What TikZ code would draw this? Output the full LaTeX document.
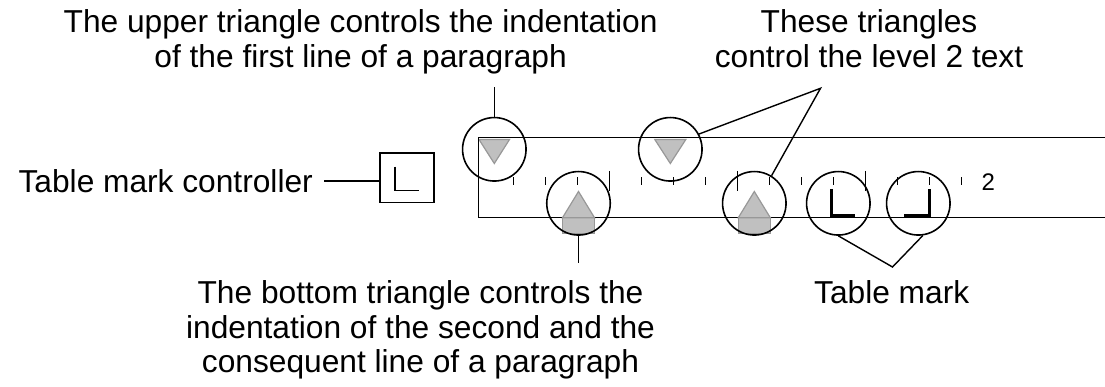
\documentclass[tikz,border=0pt]{standalone}
\usepackage{fontspec}
\setmainfont{Liberation Sans}
\definecolor{markfill}{RGB}{192,192,192}
\definecolor{markedge}{RGB}{152,152,152}
\begin{document}
\begin{tikzpicture}[x=1pt,y=-1pt,
  ln/.style={line width=1.6pt},
  leader/.style={line width=1.4pt},
  tickmark/.style={line width=1.5pt},
  ring/.style={circle,draw,line width=1.6pt,minimum size=63.5pt,inner sep=0pt},
  lbl/.style={font=\fontsize{31.7}{34.3}\selectfont,inner sep=0pt,align=center},
  marker/.style={fill=markfill,draw=markedge,line width=1.2pt},
  tabmark/.style={line width=3pt}]
\useasboundingbox (0,0) rectangle (1105,387);

% upper triangles (under the ruler line)
\draw[marker] (479,139.5) -- (509.5,139.5) -- (494.3,163.5) -- cycle;
\draw[marker] (654.8,139.5) -- (685.8,139.5) -- (670.3,163.5) -- cycle;

% ruler
\draw[ln] (1105,137.7) -- (478.3,137.7) -- (478.3,217.7) -- (1105,217.7);

% ticks
\foreach \i in {0,1,2,4,5,6,8,9,10,12,13,14}
  \draw[tickmark] ({513.3+32*\i},177.5) -- ++(0,8);
\foreach \i in {3,7,11}
  \draw[tickmark] ({513.3+32*\i},171) -- ++(0,20.5);

% bottom markers (houses)
\draw[marker] (562.5,217.7) rectangle (594.5,233.7);
\draw[marker] (562.5,217.7) -- (578.5,191.5) -- (594.5,217.7) -- cycle;
\draw[marker] (738.3,217.7) rectangle (770.3,233.7);
\draw[marker] (738.3,217.7) -- (754.3,191.5) -- (770.3,217.7) -- cycle;

% table marks
\draw[tabmark] (831.7,189) -- (831.7,216) -- (855,216);
\draw[tabmark] (904,216) -- (929.3,216) -- (929.3,189);

% circles
\node[ring] (c1) at (494.3,149.3) {};
\node[ring] (c2) at (578.5,203.3) {};
\node[ring] (c3) at (670.3,149.3) {};
\node[ring] (c4) at (754.3,203.3) {};
\node[ring] (c5) at (838.3,203.3) {};
\node[ring] (c6) at (918.3,203.3) {};

% ruler number
\node[font=\fontsize{24}{24}\selectfont,inner sep=0pt] (two) at (988.3,182.5) {2};

% controller box
\node[draw,ln,minimum width=53.8pt,minimum height=49.4pt,inner sep=0pt] (box) at (407,177.8) {};
\draw[ln] (395,166.7) -- (395,190.7) -- (419.3,190.7);

% labels
\node[lbl,anchor=base east] (tmc) at (313,193) {Table mark controller};
\node[lbl,anchor=north] (t1) at (360.6,9.6) {The upper triangle controls the indentation\\of the first line of a paragraph};
\node[lbl,anchor=north] (t2) at (869,9.6) {These triangles\\control the level 2 text};
\node[lbl,anchor=north] (t3) at (420.5,280.6) {The bottom triangle controls the\\indentation of the second and the\\consequent line of a paragraph};
\node[lbl,anchor=north] (t4) at (891.7,280.6) {Table mark};

% leaders
\coordinate (tmcend) at (324,181);
\draw[ln] (tmcend) -- (tmcend -| box.west);
\coordinate (a1) at (494.3,87.3);
\draw[leader] (c1.north) -- (a1);
\coordinate (a2) at (578.5,263.3);
\draw[leader] (c2.south) -- (a2);
\coordinate (P) at (820.5,88.3);
\draw[leader] (c3.28) -- (P) -- (c4.58);
\coordinate (Q) at (892.5,267);
\draw[leader] (c5.-90) -- (Q) -- (c6.-82);
\end{tikzpicture}
\end{document}
